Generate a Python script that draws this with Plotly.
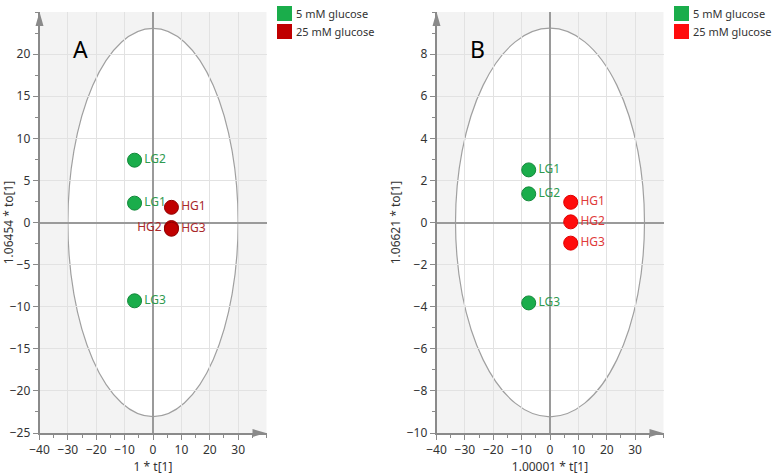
import plotly.graph_objects as go

# scores
a_lg_names = ["LG1", "LG2", "LG3"]
a_lg_t = [-6.5, -6.5, -6.5]
a_lg_to = [2.3, 7.4, -9.3]
a_hg_names = ["HG1", "HG2", "HG3"]
a_hg_t = [6.5, 6.5, 6.5]
a_hg_to = [1.8, -0.6, -0.8]

b_lg_names = ["LG1", "LG2", "LG3"]
b_lg_t = [-7.5, -7.5, -7.5]
b_lg_to = [2.5, 1.36, -3.82]
b_hg_names = ["HG1", "HG2", "HG3"]
b_hg_t = [7.3, 7.3, 7.3]
b_hg_to = [0.96, 0.03, -0.98]

# Hotelling T2 ellipse half-axes
a_ellipse = (30, 23.05)
b_ellipse = (33.3, 9.23)

legend_names = ["5 mM glucose", "25 mM glucose"]

GREEN = "#1aad4b"
GREEN_TXT = "#2f9a50"
DRED = "#c00000"
DRED_TXT = "#a8282a"
RED = "#ff0c0c"
RED_TXT = "#e03a3a"

W, H = 772, 475
FONT = "Noto Sans"

fig = go.Figure()

def pts(x, y, names, fill, line, txtcol, pos, xa, ya):
    fig.add_trace(go.Scatter(
        x=x, y=y, text=names, mode="markers+text", textposition=pos,
        marker=dict(size=14, color=fill, line=dict(color=line, width=1)),
        textfont=dict(family=FONT, size=12, color=txtcol),
        cliponaxis=False, showlegend=False, xaxis=xa, yaxis=ya))

pts(a_lg_t, a_lg_to, a_lg_names, GREEN, "#12883a", GREEN_TXT, "middle right", "x", "y")
pts(a_hg_t, a_hg_to, a_hg_names, DRED, "#900000", DRED_TXT,
    ["middle right", "middle left", "middle right"], "x", "y")
pts(b_lg_t, b_lg_to, b_lg_names, GREEN, "#12883a", GREEN_TXT, "middle right", "x2", "y2")
pts(b_hg_t, b_hg_to, b_hg_names, RED, "#e00000", RED_TXT, "middle right", "x2", "y2")

# pixel layout of each panel
panels = [
    dict(x0=39.5, x1=266.5, xa="x", ya="y", ell=a_ellipse, yt=list(range(-25, 21, 5)),
         yr=[-25, 25], ydt=2.5, xtitle="1 * t[1]", ytitle="1.06454 * to[1]",
         tag="A", tagx=71, legx=277, colors=[GREEN, DRED]),
    dict(x0=436.5, x1=663.5, xa="x2", ya="y2", ell=b_ellipse, yt=list(range(-10, 9, 2)),
         yr=[-10, 10], ydt=1, xtitle="1.00001 * t[1]", ytitle="1.06621 * to[1]",
         tag="B", tagx=477, legx=674, colors=[GREEN, RED]),
]
ytop, ybot = 12, 433

axis_common = dict(
    showgrid=True, gridcolor="#e2e2e2", gridwidth=1,
    zeroline=True, zerolinecolor="#9a9a9a", zerolinewidth=1.5,
    showline=True, linecolor="#8a8a8a", linewidth=1.5,
    ticks="outside", ticklen=5, tickcolor="#8a8a8a", tickwidth=1,
    tickfont=dict(family=FONT, size=12, color="#333"),
    automargin=False,
)

shapes, annots = [], []
for i, p in enumerate(panels):
    sfx = "" if i == 0 else "2"
    fig.update_layout(**{
        "xaxis" + sfx: dict(axis_common, domain=[p["x0"] / W, p["x1"] / W], range=[-40, 40],
                           tickvals=list(range(-40, 31, 10)), anchor=p["ya"],
                           minor=dict(dtick=5, tick0=0, ticks="outside", ticklen=3,
                                      tickcolor="#8a8a8a", showgrid=False),
                           title=dict(text=p["xtitle"], standoff=2,
                                      font=dict(family=FONT, size=12, color="#333"))),
        "yaxis" + sfx: dict(axis_common, domain=[1 - ybot / H, 1 - ytop / H], range=p["yr"],
                           tickvals=p["yt"], anchor=p["xa"],
                           minor=dict(dtick=p["ydt"], tick0=0, ticks="outside", ticklen=3,
                                      tickcolor="#8a8a8a", showgrid=False),
                           title=dict(text=p["ytitle"], standoff=4,
                                      font=dict(family=FONT, size=12, color="#333"))),
    })
    ex, ey = p["ell"]
    shapes.append(dict(type="circle", xref=p["xa"], yref=p["ya"], x0=-ex, x1=ex, y0=-ey, y1=ey,
                       fillcolor="white", line=dict(color="#a0a0a0", width=1.2), layer="below"))
    # axis arrows (paper pixel coords)
    xl = p["x0"] / W
    shapes.append(dict(type="path", xref="paper", yref="paper", fillcolor="#8a8a8a",
                       line=dict(width=0),
                       path=f"M {(p['x0']-4)/W} {1-26/H} L {(p['x0']+4)/W} {1-26/H} "
                            f"L {xl} {1-ytop/H} Z"))
    shapes.append(dict(type="path", xref="paper", yref="paper", fillcolor="#8a8a8a",
                       line=dict(width=0),
                       path=f"M {(p['x1']-14)/W} {1-(ybot-4)/H} L {(p['x1']-14)/W} {1-(ybot+4)/H} "
                            f"L {(p['x1']-0.5)/W} {1-ybot/H} Z"))
    annots.append(dict(text=p["tag"], xref="paper", yref="paper", x=p["tagx"] / W, y=1 - 31 / H,
                       showarrow=False, font=dict(family=FONT, size=23, color="black")))
    # legend squares + labels
    for j, (name, col) in enumerate(zip(legend_names, p["colors"])):
        top = 6 + 18 * j
        shapes.append(dict(type="rect", xref="paper", yref="paper",
                           x0=p["legx"] / W, x1=(p["legx"] + 15) / W,
                           y0=1 - (top + 15) / H, y1=1 - top / H,
                           fillcolor=col, line=dict(width=0)))
        annots.append(dict(text=name, xref="paper", yref="paper", x=(p["legx"] + 17) / W,
                           y=1 - (top + 7.5) / H, xanchor="left", yanchor="middle",
                           showarrow=False, font=dict(family=FONT, size=11, color="#333")))

fig.update_layout(
    width=W, height=H, margin=dict(l=0, r=0, t=0, b=0),
    paper_bgcolor="white", plot_bgcolor="#f3f3f3",
    shapes=shapes, annotations=annots, showlegend=False,
)

# page body has a default 8px margin; drop it so the figure sits at the window origin
fig.write_html("out.html", config={"displayModeBar": False},
               post_script="document.body.style.margin='0';")
